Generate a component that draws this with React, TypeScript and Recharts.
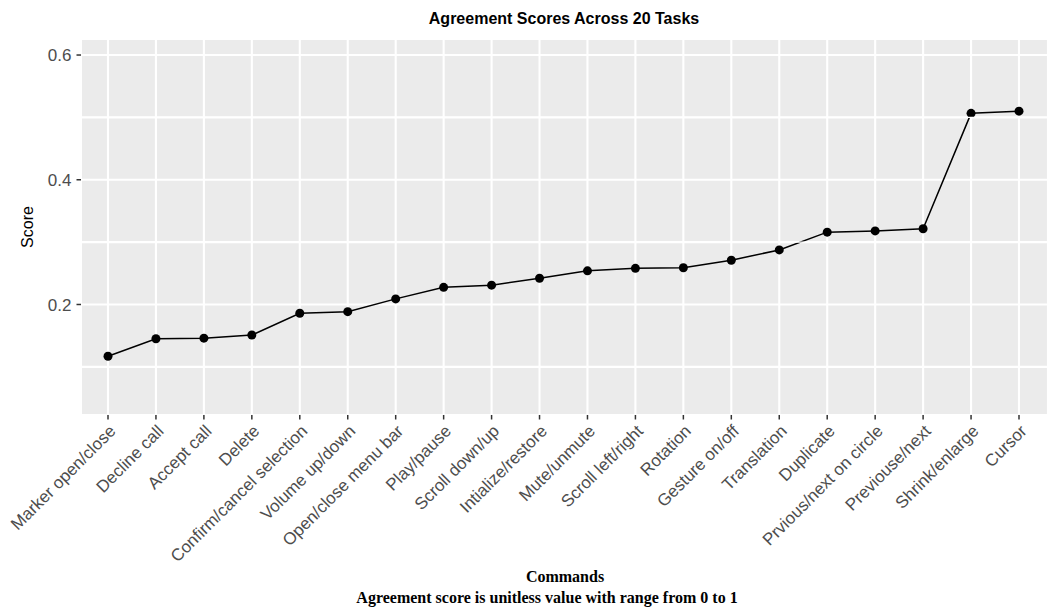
import React from 'react';
import { LineChart, Line, XAxis, YAxis, CartesianGrid } from 'recharts';

const categories = [
  'Marker open/close', 'Decline call', 'Accept call', 'Delete', 'Confirm/cancel selection',
  'Volume up/down', 'Open/close menu bar', 'Play/pause', 'Scroll down/up', 'Intialize/restore',
  'Mute/unmute', 'Scroll left/right', 'Rotation', 'Gesture on/off', 'Translation',
  'Duplicate', 'Prvious/next on circle', 'Previouse/next', 'Shrink/enlarge', 'Cursor',
];
const scores = [
  0.117, 0.145, 0.146, 0.151, 0.186,
  0.1885, 0.209, 0.2275, 0.231, 0.242,
  0.254, 0.258, 0.259, 0.271, 0.2875,
  0.316, 0.318, 0.3215, 0.5065, 0.510,
];
const yMajor = [0.2, 0.4, 0.6];
const yGridTicks = [0.1, 0.2, 0.3, 0.4, 0.5, 0.6];
const yDomain = [0.0228, 0.6257];

const data = categories.map((c, i) => ({ command: c, score: scores[i] }));

const SANS = '"Liberation Sans", Arial, Helvetica, sans-serif';
const SERIF = '"Liberation Serif", "Times New Roman", serif';

const isMajor = (v: number) => yMajor.some((m) => Math.abs(m - v) < 1e-9);

const XTick = (props: any) => {
  const { x, y, payload } = props;
  return (
    <g transform={`translate(${x},${y})`}>
      <text
        transform="rotate(-45)"
        x={0}
        y={0}
        dy="0.72em"
        textAnchor="end"
        fill="#4D4D4D"
        fontSize={17}
        fontFamily={SANS}
      >
        {payload.value}
      </text>
    </g>
  );
};

// Y ticks: major ticks get a label and tick mark; minor ticks draw a thin white grid line.
const YTick = (props: any) => {
  const { x, y, payload } = props;
  const major = isMajor(payload.value);
  if (!major) {
    return (
      <g>
        <line x1={x + 9.5} x2={x + 976.5} y1={y} y2={y} stroke="#FFFFFF" strokeWidth={1.1} />
      </g>
    );
  }
  return (
    <g>
      <line x1={x + 5} x2={x + 9.5} y1={y} y2={y} stroke="#333333" strokeWidth={1.5} />
      <text
        x={x}
        y={y}
        dy="0.36em"
        textAnchor="end"
        fill="#4D4D4D"
        fontSize={17}
        fontFamily={SANS}
      >
        {Number(payload.value).toFixed(1)}
      </text>
    </g>
  );
};

export default function App() {
  return (
    <div style={{ position: 'absolute', left: 0, top: 0, width: 1053, height: 611, background: '#fff' }}>
      <LineChart
        width={1053}
        height={611}
        data={data}
        margin={{ top: 39, right: 5, bottom: 46, left: 0 }}
      >
        <CartesianGrid fill="#EBEBEB" stroke="#FFFFFF" strokeWidth={2.1} />
        <XAxis
          dataKey="command"
          scale="point"
          padding={{ left: 27, right: 29 }}
          interval={0}
          height={150}
          axisLine={false}
          tickLine={{ stroke: '#333333', strokeWidth: 1.5 }}
          tickSize={4.5}
          tickMargin={4}
          tick={<XTick />}
        />
        <YAxis
          type="number"
          domain={yDomain}
          ticks={yGridTicks}
          interval={0}
          allowDataOverflow
          width={81}
          axisLine={false}
          tickLine={false}
          tickSize={4.5}
          tickMargin={5}
          tick={<YTick />}
        />
        <Line
          type="linear"
          dataKey="score"
          stroke="#000000"
          strokeWidth={1.5}
          dot={{ r: 4.5, fill: '#000000', stroke: 'none' }}
          activeDot={false}
          isAnimationActive={false}
        />
      </LineChart>
      <div
        style={{
          position: 'absolute', left: 364, width: 400, top: 10, textAlign: 'center',
          fontFamily: SANS, fontWeight: 'bold', fontSize: 16, color: '#000', lineHeight: '18px',
        }}
      >
        Agreement Scores Across 20 Tasks
      </div>
      <div
        style={{
          position: 'absolute', left: 0, top: 227, width: 56, height: 0,
          display: 'flex', justifyContent: 'center', alignItems: 'center',
        }}
      >
        <div style={{ transform: 'rotate(-90deg)', fontFamily: SANS, fontSize: 16, color: '#000', whiteSpace: 'nowrap', lineHeight: '18px' }}>
          Score
        </div>
      </div>
      <div
        style={{
          position: 'absolute', left: 365, width: 400, top: 568, textAlign: 'center',
          fontFamily: SERIF, fontWeight: 'bold', fontSize: 16, color: '#000', lineHeight: '18px',
        }}
      >
        Commands
      </div>
      <div
        style={{
          position: 'absolute', left: 247, width: 600, top: 589, textAlign: 'center',
          fontFamily: SERIF, fontWeight: 'bold', fontSize: 16, color: '#000', lineHeight: '18px',
        }}
      >
        Agreement score is unitless value with range from 0 to 1
      </div>
    </div>
  );
}
